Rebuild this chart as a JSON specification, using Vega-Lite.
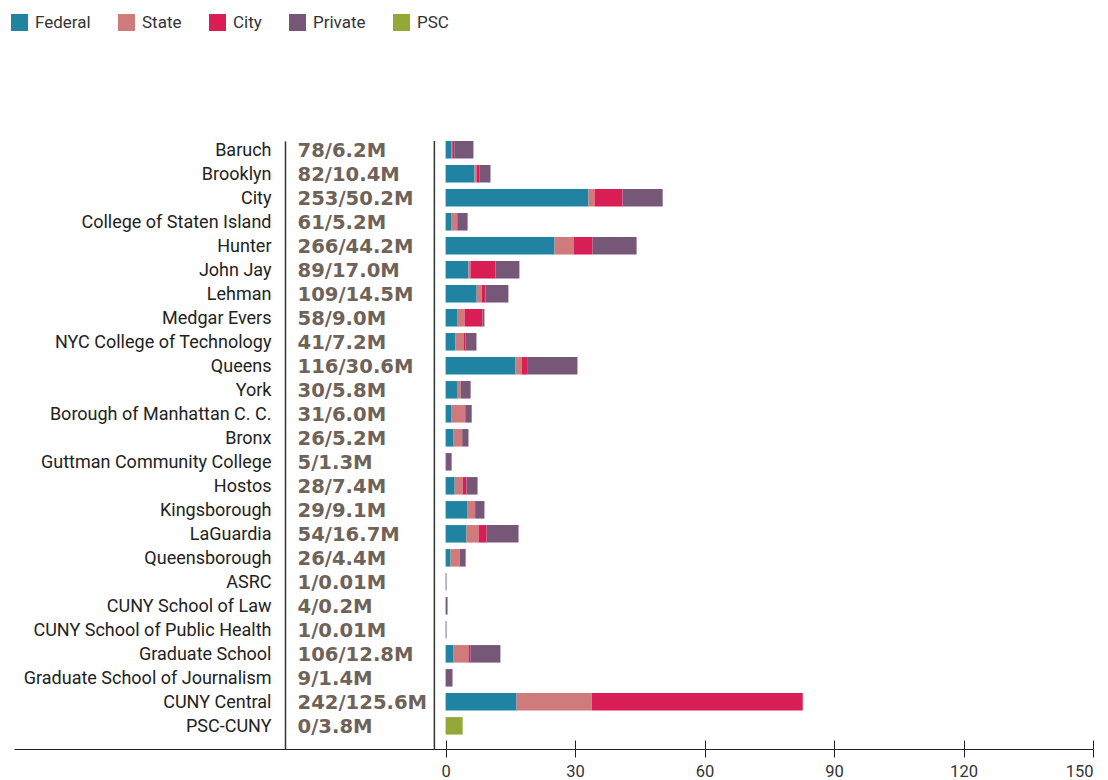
{
  "$schema": "https://vega.github.io/schema/vega-lite/v6.json",
  "width": 1079,
  "height": 608,
  "autosize": {"type": "none"},
  "padding": {"left": 14, "top": 141, "right": 15, "bottom": 31},
  "background": "white",
  "config": {"view": {"stroke": null}},
  "datasets": {
    "funds": [
      {"school": "Baruch", "source": "Federal", "value": 1.4},
      {"school": "Baruch", "source": "State", "value": 0.15},
      {"school": "Baruch", "source": "City", "value": 0.45},
      {"school": "Baruch", "source": "Private", "value": 4.45},
      {"school": "Brooklyn", "source": "Federal", "value": 6.7},
      {"school": "Brooklyn", "source": "State", "value": 0.45},
      {"school": "Brooklyn", "source": "City", "value": 0.75},
      {"school": "Brooklyn", "source": "Private", "value": 2.5},
      {"school": "City", "source": "Federal", "value": 33.1},
      {"school": "City", "source": "State", "value": 1.4},
      {"school": "City", "source": "City", "value": 6.5},
      {"school": "City", "source": "Private", "value": 9.3},
      {"school": "College of Staten Island", "source": "Federal", "value": 1.4},
      {"school": "College of Staten Island", "source": "State", "value": 1.15},
      {"school": "College of Staten Island", "source": "City", "value": 0.25},
      {"school": "College of Staten Island", "source": "Private", "value": 2.3},
      {"school": "Hunter", "source": "Federal", "value": 25.25},
      {"school": "Hunter", "source": "State", "value": 4.4},
      {"school": "Hunter", "source": "City", "value": 4.4},
      {"school": "Hunter", "source": "Private", "value": 10.2},
      {"school": "John Jay", "source": "Federal", "value": 5.3},
      {"school": "John Jay", "source": "State", "value": 0.45},
      {"school": "John Jay", "source": "City", "value": 5.8},
      {"school": "John Jay", "source": "Private", "value": 5.55},
      {"school": "Lehman", "source": "Federal", "value": 7.2},
      {"school": "Lehman", "source": "State", "value": 1.15},
      {"school": "Lehman", "source": "City", "value": 0.9},
      {"school": "Lehman", "source": "Private", "value": 5.3},
      {"school": "Medgar Evers", "source": "Federal", "value": 2.8},
      {"school": "Medgar Evers", "source": "State", "value": 1.6},
      {"school": "Medgar Evers", "source": "City", "value": 4.15},
      {"school": "Medgar Evers", "source": "Private", "value": 0.45},
      {"school": "NYC College of Technology", "source": "Federal", "value": 2.3},
      {"school": "NYC College of Technology", "source": "State", "value": 1.85},
      {"school": "NYC College of Technology", "source": "City", "value": 0.45},
      {"school": "NYC College of Technology", "source": "Private", "value": 2.55},
      {"school": "Queens", "source": "Federal", "value": 16.2},
      {"school": "Queens", "source": "State", "value": 1.4},
      {"school": "Queens", "source": "City", "value": 1.45},
      {"school": "Queens", "source": "Private", "value": 11.5},
      {"school": "York", "source": "Federal", "value": 2.8},
      {"school": "York", "source": "State", "value": 0.7},
      {"school": "York", "source": "Private", "value": 2.3},
      {"school": "Borough of Manhattan C. C.", "source": "Federal", "value": 1.4},
      {"school": "Borough of Manhattan C. C.", "source": "State", "value": 3.0},
      {"school": "Borough of Manhattan C. C.", "source": "City", "value": 0.25},
      {"school": "Borough of Manhattan C. C.", "source": "Private", "value": 1.4},
      {"school": "Bronx", "source": "Federal", "value": 1.85},
      {"school": "Bronx", "source": "State", "value": 1.85},
      {"school": "Bronx", "source": "City", "value": 0.15},
      {"school": "Bronx", "source": "Private", "value": 1.45},
      {"school": "Guttman Community College", "source": "Federal", "value": 0.1},
      {"school": "Guttman Community College", "source": "Private", "value": 1.3},
      {"school": "Hostos", "source": "Federal", "value": 2.1},
      {"school": "Hostos", "source": "State", "value": 1.85},
      {"school": "Hostos", "source": "City", "value": 0.9},
      {"school": "Hostos", "source": "Private", "value": 2.55},
      {"school": "Kingsborough", "source": "Federal", "value": 5.1},
      {"school": "Kingsborough", "source": "State", "value": 1.6},
      {"school": "Kingsborough", "source": "City", "value": 0.3},
      {"school": "Kingsborough", "source": "Private", "value": 2.0},
      {"school": "LaGuardia", "source": "Federal", "value": 4.85},
      {"school": "LaGuardia", "source": "State", "value": 2.8},
      {"school": "LaGuardia", "source": "City", "value": 1.85},
      {"school": "LaGuardia", "source": "Private", "value": 7.4},
      {"school": "Queensborough", "source": "Federal", "value": 1.15},
      {"school": "Queensborough", "source": "State", "value": 2.1},
      {"school": "Queensborough", "source": "Private", "value": 1.4},
      {"school": "ASRC", "source": "Private", "value": 0.2},
      {"school": "CUNY School of Law", "source": "Private", "value": 0.45},
      {"school": "CUNY School of Public Health", "source": "Private", "value": 0.2},
      {"school": "Graduate School", "source": "Federal", "value": 1.85},
      {"school": "Graduate School", "source": "State", "value": 3.45},
      {"school": "Graduate School", "source": "City", "value": 0.45},
      {"school": "Graduate School", "source": "Private", "value": 6.95},
      {"school": "Graduate School of Journalism", "source": "Private", "value": 1.6},
      {"school": "CUNY Central", "source": "Federal", "value": 16.45},
      {"school": "CUNY Central", "source": "State", "value": 17.4},
      {"school": "CUNY Central", "source": "City", "value": 48.9},
      {"school": "PSC-CUNY", "source": "PSC", "value": 3.95}
    ],
    "schools": [
      {"school": "Baruch", "label": "78/6.2M"},
      {"school": "Brooklyn", "label": "82/10.4M"},
      {"school": "City", "label": "253/50.2M"},
      {"school": "College of Staten Island", "label": "61/5.2M"},
      {"school": "Hunter", "label": "266/44.2M"},
      {"school": "John Jay", "label": "89/17.0M"},
      {"school": "Lehman", "label": "109/14.5M"},
      {"school": "Medgar Evers", "label": "58/9.0M"},
      {"school": "NYC College of Technology", "label": "41/7.2M"},
      {"school": "Queens", "label": "116/30.6M"},
      {"school": "York", "label": "30/5.8M"},
      {"school": "Borough of Manhattan C. C.", "label": "31/6.0M"},
      {"school": "Bronx", "label": "26/5.2M"},
      {"school": "Guttman Community College", "label": "5/1.3M"},
      {"school": "Hostos", "label": "28/7.4M"},
      {"school": "Kingsborough", "label": "29/9.1M"},
      {"school": "LaGuardia", "label": "54/16.7M"},
      {"school": "Queensborough", "label": "26/4.4M"},
      {"school": "ASRC", "label": "1/0.01M"},
      {"school": "CUNY School of Law", "label": "4/0.2M"},
      {"school": "CUNY School of Public Health", "label": "1/0.01M"},
      {"school": "Graduate School", "label": "106/12.8M"},
      {"school": "Graduate School of Journalism", "label": "9/1.4M"},
      {"school": "CUNY Central", "label": "242/125.6M"},
      {"school": "PSC-CUNY", "label": "0/3.8M"}
    ]
  },
  "layer": [
    {
      "data": {"name": "funds"},
      "transform": [
        {"calculate": "indexof(['Federal', 'State', 'City', 'Private', 'PSC'], datum.source)", "as": "stack_order"}
      ],
      "mark": {"type": "bar", "strokeWidth": 0},
      "encoding": {
        "y": {
          "field": "school",
          "type": "nominal",
          "scale": {
            "domain": ["Baruch", "Brooklyn", "City", "College of Staten Island", "Hunter", "John Jay", "Lehman", "Medgar Evers", "NYC College of Technology", "Queens", "York", "Borough of Manhattan C. C.", "Bronx", "Guttman Community College", "Hostos", "Kingsborough", "LaGuardia", "Queensborough", "ASRC", "CUNY School of Law", "CUNY School of Public Health", "Graduate School", "Graduate School of Journalism", "CUNY Central", "PSC-CUNY"],
            "paddingInner": 0.27, "paddingOuter": 0.3, "align": 0
          },
          "axis": {
            "title": null,
            "orient": "left",
            "offset": -271,
            "domain": true,
            "domainColor": "#333333",
            "domainWidth": 1.5,
            "ticks": false,
            "labelPadding": 14,
            "labelOffset": 1,
            "labelFont": "Roboto",
            "labelFontSize": 18,
            "labelColor": "#222222",
            "labelLimit": 400
          }
        },
        "x": {
          "field": "value",
          "type": "quantitative",
          "stack": "zero",
          "scale": {"domain": [-100, 150], "nice": false, "zero": false},
          "axis": {
            "title": null,
            "orient": "bottom",
            "values": [0, 30, 60, 90, 120, 150],
            "grid": false,
            "domain": true,
            "domainColor": "#222222",
            "domainWidth": 1,
            "tickColor": "#222222",
            "tickSize": 8,
            "tickWidth": 1,
            "labelPadding": 6,
            "labelFont": "Roboto",
            "labelFontSize": 16.5,
            "labelColor": "#333333"
          }
        },
        "order": {"field": "stack_order", "type": "quantitative", "sort": "ascending"},
        "color": {
          "field": "source",
          "type": "nominal",
          "scale": {
            "domain": ["Federal", "State", "City", "Private", "PSC"],
            "range": ["#1f83a1", "#cf7a7b", "#d81e55", "#775778", "#93a839"]
          },
          "legend": {
            "title": null,
            "orient": "none",
            "legendX": -3,
            "legendY": -127,
            "direction": "horizontal",
            "padding": 0,
            "offset": 0,
            "symbolType": "square",
            "symbolSize": 289,
            "symbolStrokeWidth": 0,
            "labelFont": "Roboto",
            "labelFontSize": 17,
            "labelColor": "#333333",
            "labelOffset": 7,
            "columnPadding": 27
          }
        }
      }
    },
    {
      "data": {"name": "schools"},
      "mark": {"type": "text", "align": "left", "baseline": "middle", "dy": 1, "font": "DejaVu Sans", "fontWeight": "bold", "fontSize": 19.6, "color": "#6f6259"},
      "encoding": {
        "y": {
          "field": "school",
          "type": "nominal",
          "scale": {
            "domain": ["Baruch", "Brooklyn", "City", "College of Staten Island", "Hunter", "John Jay", "Lehman", "Medgar Evers", "NYC College of Technology", "Queens", "York", "Borough of Manhattan C. C.", "Bronx", "Guttman Community College", "Hostos", "Kingsborough", "LaGuardia", "Queensborough", "ASRC", "CUNY School of Law", "CUNY School of Public Health", "Graduate School", "Graduate School of Journalism", "CUNY Central", "PSC-CUNY"],
            "paddingInner": 0.27, "paddingOuter": 0.3, "align": 0
          },
          "axis": {
            "title": null,
            "orient": "left",
            "offset": -271,
            "domain": true,
            "domainColor": "#333333",
            "domainWidth": 1.5,
            "ticks": false,
            "labelPadding": 14,
            "labelOffset": 1,
            "labelFont": "Roboto",
            "labelFontSize": 18,
            "labelColor": "#222222",
            "labelLimit": 400
          }
        },
        "x": {"datum": -34.3, "type": "quantitative", "scale": {"domain": [-100, 150], "nice": false, "zero": false}, "axis": null},
        "text": {"field": "label", "type": "nominal"}
      }
    },
    {
      "data": {"values": [{"line": "divider"}]},
      "mark": {"type": "rule", "color": "#333333", "strokeWidth": 1.5},
      "encoding": {
        "x": {
          "datum": -2.6,
          "type": "quantitative",
          "scale": {"domain": [-100, 150], "nice": false, "zero": false},
          "axis": {
            "title": null,
            "orient": "bottom",
            "values": [0, 30, 60, 90, 120, 150],
            "grid": false,
            "domain": false,
            "labels": false,
            "tickColor": "#222222",
            "tickSize": -9,
            "tickWidth": 1
          }
        }
      }
    }
  ],
  "resolve": {"scale": {"x": "independent"}, "axis": {"x": "independent"}}
}
